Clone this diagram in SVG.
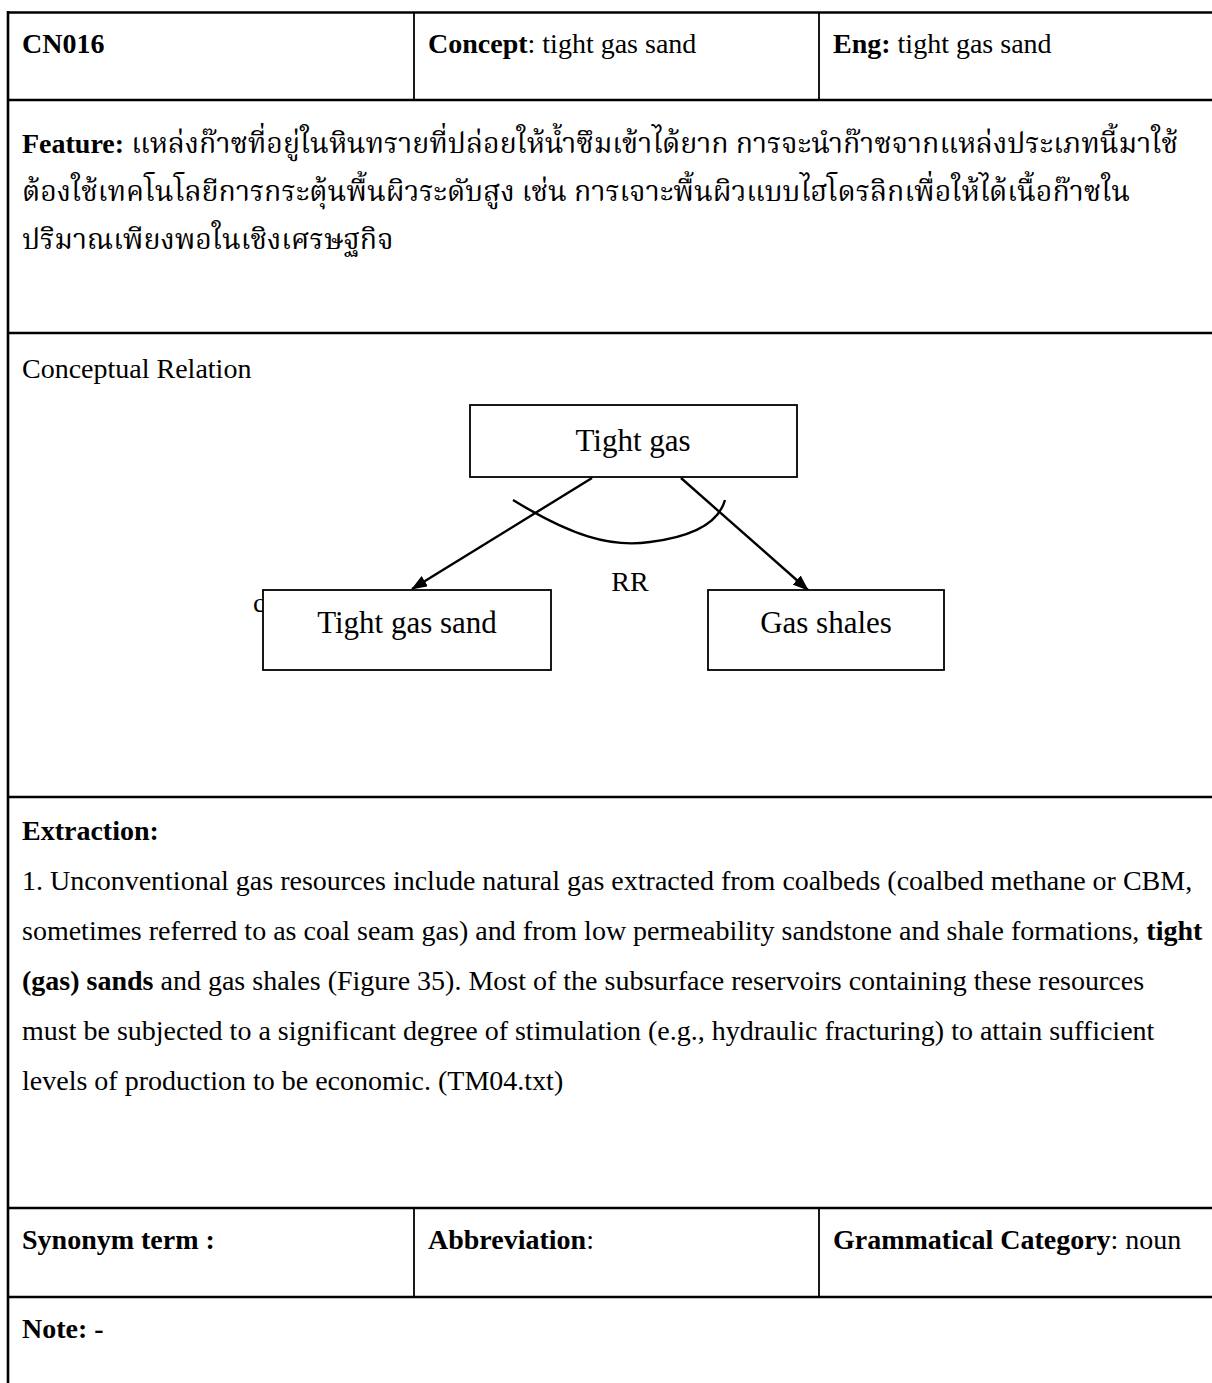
<svg xmlns="http://www.w3.org/2000/svg" width="1212" height="1383" viewBox="0 0 1212 1383">
  <style>
    .t { font-family: "Liberation Serif", "Times New Roman", "Noto Serif Thai", "Noto Sans Thai", serif; font-size: 28px; fill: #000; }
    .b { font-weight: bold; }
    .th { font-family: "Liberation Serif", "Noto Serif Thai", "Noto Sans Thai", "DejaVu Sans", serif; font-size: 28.5px; fill: #000; }
    .dg { font-family: "Liberation Serif", "Times New Roman", serif; font-size: 31px; fill: #000; text-anchor: middle; }
    .hl { stroke: #000; stroke-width: 2.6; fill: none; }
    .vl { stroke: #000; stroke-width: 1.8; fill: none; }
    .box { fill: #fff; stroke: #000; stroke-width: 1.8; }
    .edge { stroke: #000; stroke-width: 2.4; fill: none; }
  </style>
  <defs>
    <marker id="arrow" viewBox="0 0 16 12" refX="15" refY="6" markerWidth="16" markerHeight="12" markerUnits="userSpaceOnUse" orient="auto">
      <path d="M0,0 L16,6 L0,12 z" fill="#000"/>
    </marker>
  </defs>

  <rect width="1212" height="1383" fill="#fff"/>

  <!-- table grid -->
  <g id="grid">
    <line class="hl" x1="8" y1="12.5" x2="1212" y2="12.5"/>
    <line class="hl" x1="8" y1="100" x2="1212" y2="100"/>
    <line class="hl" x1="8" y1="333" x2="1212" y2="333"/>
    <line class="hl" x1="8" y1="797" x2="1212" y2="797"/>
    <line class="hl" x1="8" y1="1208" x2="1212" y2="1208"/>
    <line class="hl" x1="8" y1="1297" x2="1212" y2="1297"/>
    <line class="hl" x1="8" y1="11" x2="8" y2="1383"/>
    <line class="vl" x1="414" y1="12" x2="414" y2="100"/>
    <line class="vl" x1="819" y1="12" x2="819" y2="100"/>
    <line class="vl" x1="414" y1="1208" x2="414" y2="1297"/>
    <line class="vl" x1="819" y1="1208" x2="819" y2="1297"/>
  </g>

  <!-- header row -->
  <g id="header">
    <text class="t b" x="22" y="53">CN016</text>
    <text class="t" x="428" y="53"><tspan class="b">Concept</tspan>: tight gas sand</text>
    <text class="t" x="833" y="53"><tspan class="b">Eng:</tspan> tight gas sand</text>
  </g>

  <!-- feature row -->
  <g id="feature">
    <text class="th" x="22" y="153"><tspan class="t b">Feature:</tspan> แหล่งก๊าซที่อยู่ในหินทรายที่ปล่อยให้น้ำซึมเข้าได้ยาก การจะนำก๊าซจากแหล่งประเภทนี้มาใช้</text>
    <text class="th" x="22" y="201">ต้องใช้เทคโนโลยีการกระตุ้นพื้นผิวระดับสูง เช่น การเจาะพื้นผิวแบบไฮโดรลิกเพื่อให้ได้เนื้อก๊าซใน</text>
    <text class="th" x="22" y="249">ปริมาณเพียงพอในเชิงเศรษฐกิจ</text>
  </g>

  <!-- conceptual relation -->
  <text class="t" x="22" y="378">Conceptual Relation</text>

  <g id="connectors">
    <line class="edge" x1="592" y1="478" x2="412" y2="589" marker-end="url(#arrow)"/>
    <line class="edge" x1="681" y1="478" x2="808" y2="590" marker-end="url(#arrow)"/>
    <path class="edge" stroke-width="1.8" d="M513,500 C570,535 610,548 650,542 C690,537 718,525 725,500"/>
    <text class="t" x="630" y="591" font-size="27" text-anchor="middle">RR</text>
  </g>

  <text class="t" x="253" y="612" font-size="22">c</text>

  <g id="node-tight-gas">
    <rect class="box" x="470" y="405" width="327" height="72"/>
    <text class="dg" x="633" y="451">Tight gas</text>
  </g>
  <g id="node-tight-gas-sand">
    <rect class="box" x="263" y="590" width="288" height="80"/>
    <text class="dg" x="407" y="633">Tight gas sand</text>
  </g>
  <g id="node-gas-shales">
    <rect class="box" x="708" y="590" width="236" height="80"/>
    <text class="dg" x="826" y="633">Gas shales</text>
  </g>

  <!-- extraction -->
  <g id="extraction">
    <text class="t b" x="22" y="840">Extraction:</text>
    <text class="t" x="22" y="890">1. Unconventional gas resources include natural gas extracted from coalbeds (coalbed methane or CBM,</text>
    <text class="t" x="22" y="940">sometimes referred to as coal seam gas) and from low permeability sandstone and shale formations, <tspan class="b">tight</tspan></text>
    <text class="t" x="22" y="990"><tspan class="b">(gas) sands</tspan> and gas shales (Figure 35). Most of the subsurface reservoirs containing these resources</text>
    <text class="t" x="22" y="1040">must be subjected to a significant degree of stimulation (e.g., hydraulic fracturing) to attain sufficient</text>
    <text class="t" x="22" y="1090">levels of production to be economic. (TM04.txt)</text>
  </g>

  <!-- bottom rows -->
  <g id="footer">
    <text class="t b" x="22" y="1249">Synonym term :</text>
    <text class="t" x="428" y="1249"><tspan class="b">Abbreviation</tspan>:</text>
    <text class="t" x="833" y="1249"><tspan class="b">Grammatical Category</tspan>: noun</text>
    <text class="t b" x="22" y="1338">Note: -</text>
  </g>
</svg>
